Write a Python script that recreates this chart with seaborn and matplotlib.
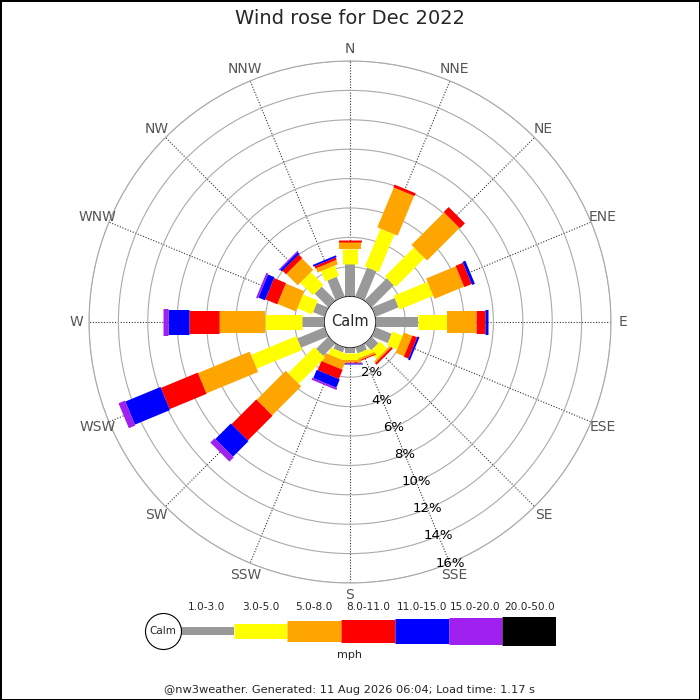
import numpy as np
import pandas as pd
import matplotlib
matplotlib.use("Agg")
import matplotlib.pyplot as plt
import seaborn as sns

# compass directions, clockwise from north
directions = ["N", "NNE", "NE", "ENE", "E", "ESE", "SE", "SSE",
              "S", "SSW", "SW", "WSW", "W", "WNW", "NW", "NNW"]
speed_bins = ["1.0-3.0", "3.0-5.0", "5.0-8.0", "8.0-11.0",
              "11.0-15.0", "15.0-20.0", "20.0-50.0"]

# percent of time per direction, one list per speed bin (mph)
pct_1_3 = [2.19, 2.12, 2.12, 1.68, 2.87, 1.17, 0.63, 0.42,
           0.35, 0.35, 1.17, 1.99, 1.53, 0.83, 1.31, 1.44]
pct_3_5 = [1.02, 2.79, 2.79, 2.48, 1.97, 0.75, 0.68, 0.34,
           0.48, 0.48, 2.52, 3.33, 2.50, 1.09, 1.22, 0.75]
pct_5_8 = [0.50, 2.93, 3.13, 2.18, 1.98, 0.61, 0.13, 0.14,
           0.14, 0.61, 2.79, 3.81, 3.11, 1.36, 1.09, 0.31]
pct_8_11 = [0.08, 0.20, 0.48, 0.54, 0.61, 0.34, 0.14, 0.07,
            0.05, 0.68, 2.38, 2.72, 2.04, 0.88, 0.34, 0.17]
pct_11_15 = [0.00, 0.00, 0.00, 0.21, 0.20, 0.14, 0.00, 0.00,
             0.08, 0.61, 1.49, 2.59, 1.43, 0.48, 0.17, 0.13]
pct_15_20 = [0.00, 0.00, 0.00, 0.00, 0.00, 0.00, 0.00, 0.00,
             0.00, 0.14, 0.41, 0.47, 0.34, 0.14, 0.07, 0.00]
pct_20_50 = [0.0] * 16

ring_ticks = [2, 4, 6, 8, 10, 12, 14, 16]

# styles
bin_colors = sns.color_palette(["#999999", "#ffff00", "#ffa500", "#ff0000",
                                "#0000ff", "#a020f0", "#000000"])
bar_px = [10, 15, 22, 23, 25, 27, 29]
legend_px = [8, 15, 21, 23, 25, 27, 29]
px_to_pt = 72 / 100

df = pd.DataFrame({"direction": directions,
                   "1.0-3.0": pct_1_3, "3.0-5.0": pct_3_5, "5.0-8.0": pct_5_8,
                   "8.0-11.0": pct_8_11, "11.0-15.0": pct_11_15,
                   "15.0-20.0": pct_15_20, "20.0-50.0": pct_20_50})
df["theta"] = np.deg2rad(np.arange(16) * 22.5)

sns.set_style("white")
plt.rcParams["font.family"] = ["DejaVu Sans"]

fig = plt.figure(figsize=(7, 7), dpi=100)
fig.patch.set_facecolor("white")
fig.patch.set_edgecolor("black")
fig.patch.set_linewidth(1.0)

ax = fig.add_axes([89 / 700, 117 / 700, 522 / 700, 522 / 700], projection="polar")
ax.set_theta_zero_location("N")
ax.set_theta_direction(-1)
ax.set_rorigin(-1.755)
ax.set_ylim(0, 16)
ax.set_yticks(ring_ticks)
ax.set_yticklabels([])
ax.set_xticks(df["theta"])
ax.set_xticklabels([])
ax.yaxis.grid(True, color="#aaaaaa", lw=0.8, ls="-")
ax.xaxis.grid(True, color="#333333", lw=0.8, ls=(0, (1, 1.5)))
ax.spines["polar"].set_color("#aaaaaa")
ax.spines["polar"].set_linewidth(0.8)
ax.spines["inner"].set_visible(False)
ax.tick_params(length=0)

# stacked radial bars with a fixed pixel width
for _, row in df.iterrows():
    base = 0.0
    for k, b in enumerate(speed_bins):
        v = row[b]
        if v <= 0:
            continue
        ax.plot([row["theta"], row["theta"]], [base, base + v], color=bin_colors[k],
                lw=bar_px[k] * px_to_pt, solid_capstyle="butt", zorder=3)
        base += v

ax.text(0.5, 0.5, "Calm", transform=ax.transAxes, ha="center", va="center",
        fontsize=10.5, zorder=5)

for d, th in zip(directions, df["theta"]):
    ax.text(th, 16.85, d, ha="center", va="center", fontsize=10,
            color="#555555", clip_on=False)

for t in ring_ticks:
    ax.text(np.deg2rad(157.5), t, f"{t}%", ha="center", va="center",
            fontsize=9.5, color="black", zorder=6)

fig.text(0.5, 1 - 18 / 700, "Wind rose for Dec 2022", ha="center", va="center",
         fontsize=14)

# speed legend
leg = fig.add_axes([180 / 700, (700 - 631 - 21) / 700, 376 / 700, 42 / 700])
leg.set_xlim(0, 7)
leg.set_ylim(-1, 1)
leg.axis("off")
for i, b in enumerate(speed_bins):
    leg.plot([i, i + 1], [0, 0], color=bin_colors[i], lw=legend_px[i] * px_to_pt,
             solid_capstyle="butt")
    leg.annotate(b, (i + 0.5, 0), xytext=(0, 17), textcoords="offset points",
                 ha="center", va="center", fontsize=7.6)
leg.scatter([-0.32], [0], s=(36 * px_to_pt) ** 2, facecolor="white",
            edgecolor="black", lw=0.8, clip_on=False, zorder=4)
leg.text(-0.32, 0, "Calm", ha="center", va="center", fontsize=7.5, zorder=5)

fig.text(0.5, 1 - 655 / 700, "mph", ha="center", va="center", fontsize=8)
fig.text(0.5, 1 - 690 / 700,
         "@nw3weather. Generated: 11 Aug 2026 06:04; Load time: 1.17 s",
         ha="center", va="center", fontsize=8.2)

fig.savefig("out.png", dpi=100, facecolor=fig.get_facecolor(),
            edgecolor=fig.get_edgecolor())
